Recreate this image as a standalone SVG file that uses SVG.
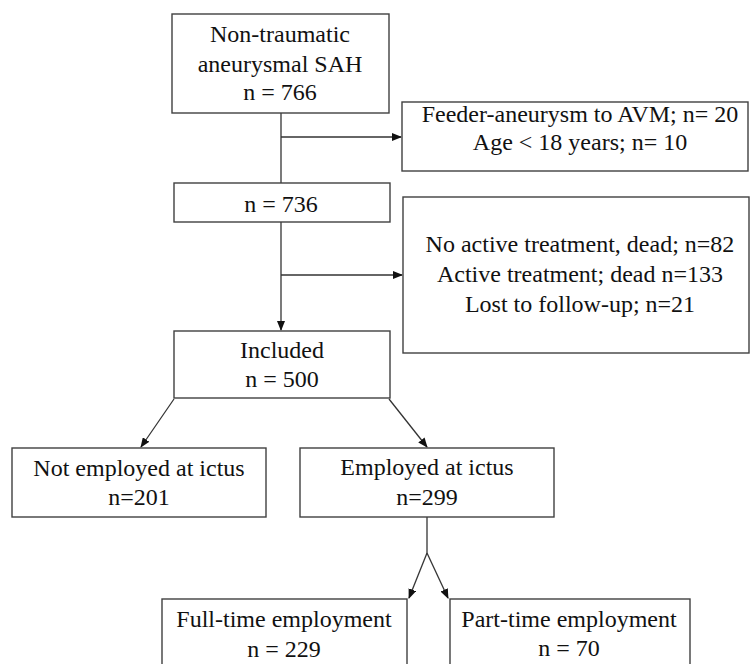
<svg xmlns="http://www.w3.org/2000/svg" width="750" height="664" viewBox="0 0 750 664">
<style>
.box{fill:#fff;stroke:#404040;stroke-width:1.4}
.t{font-family:"Liberation Serif","Times New Roman",serif;font-size:24px;fill:#111;text-anchor:middle}
.c{fill:none;stroke:#333;stroke-width:1.3}
</style>
<defs>
<marker id="ah" markerWidth="10" markerHeight="8" refX="9" refY="4" orient="auto" markerUnits="userSpaceOnUse">
<path d="M0,0 L10,4 L0,8 Z" fill="#111"/>
</marker>
</defs>
<rect width="750" height="664" fill="#fff"/>
<g id="connectors">
<path class="c" d="M281,113 V183"/>
<path class="c" d="M281,137 H401" marker-end="url(#ah)"/>
<path class="c" d="M281,222 V330" marker-end="url(#ah)"/>
<path class="c" d="M281,275 H402" marker-end="url(#ah)"/>
<path class="c" d="M174,399 L141,447" marker-end="url(#ah)"/>
<path class="c" d="M389,399 L427,447" marker-end="url(#ah)"/>
<path class="c" d="M427,517 V553"/>
<path class="c" d="M427,553 L409,598" marker-end="url(#ah)"/>
<path class="c" d="M427,553 L448,598" marker-end="url(#ah)"/>
</g>
<g id="n1">
<rect class="box" x="172" y="14" width="217" height="99"/>
<text class="t" x="280" y="42">Non-traumatic</text>
<text class="t" x="280" y="72">aneurysmal SAH</text>
<text class="t" x="280" y="100">n = 766</text>
</g>
<g id="excl1">
<rect class="box" x="402" y="102" width="346" height="69"/>
<text class="t" x="580" y="122">Feeder-aneurysm to AVM; n= 20</text>
<text class="t" x="580" y="150">Age &lt; 18 years; n= 10</text>
</g>
<g id="n2">
<rect class="box" x="174" y="183" width="216" height="39"/>
<text class="t" x="281" y="212">n = 736</text>
</g>
<g id="excl2">
<rect class="box" x="403" y="197" width="346" height="156"/>
<text class="t" x="580" y="252">No active treatment, dead; n=82</text>
<text class="t" x="580" y="282">Active treatment; dead n=133</text>
<text class="t" x="580" y="312">Lost to follow-up; n=21</text>
</g>
<g id="included">
<rect class="box" x="174" y="331" width="216" height="67"/>
<text class="t" x="282" y="358">Included</text>
<text class="t" x="282" y="387">n = 500</text>
</g>
<g id="notemployed">
<rect class="box" x="12" y="448" width="254" height="69"/>
<text class="t" x="139" y="476">Not employed at ictus</text>
<text class="t" x="139" y="505">n=201</text>
</g>
<g id="employed">
<rect class="box" x="300" y="448" width="254" height="69"/>
<text class="t" x="427" y="475">Employed at ictus</text>
<text class="t" x="427" y="505">n=299</text>
</g>
<g id="fulltime">
<rect class="box" x="162" y="599" width="245" height="80"/>
<text class="t" x="284" y="627">Full-time employment</text>
<text class="t" x="284" y="657">n = 229</text>
</g>
<g id="parttime">
<rect class="box" x="450" y="599" width="240" height="80"/>
<text class="t" x="569" y="627">Part-time employment</text>
<text class="t" x="569" y="656">n = 70</text>
</g>
</svg>
